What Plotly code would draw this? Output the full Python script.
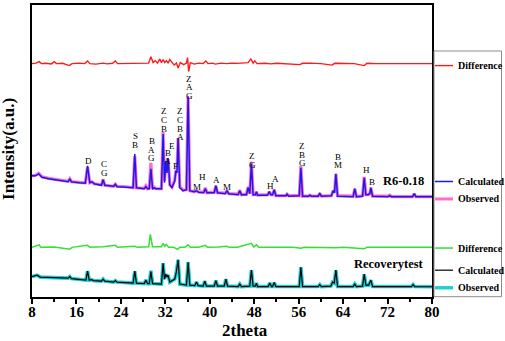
import plotly.graph_objects as go

# ---------------- data (2theta, intensity a.u.) ----------------
r6_theta = [8.0, 8.6, 9.2, 9.8, 11.0, 12.5, 14.5, 14.8, 15.1, 16.5, 17.6, 18.0, 18.4, 18.8, 19.2,
            20.5, 20.8, 21.1, 22.7, 23.0, 23.3, 25.0, 26.2, 26.5, 26.8, 28.2, 28.5, 28.8, 29.1,
            29.4, 29.7, 30.0, 30.3, 31.3, 31.6, 31.85, 32.1, 32.3, 32.5, 32.8, 33.2, 33.7, 33.9,
            34.1, 34.3, 34.6, 35.2, 35.8, 36.1, 36.4, 37.2, 37.6, 38.0, 38.9, 39.2, 39.5, 40.8,
            41.1, 41.4, 42.8, 43.1, 43.4, 45.1, 45.4, 45.7, 46.6, 46.9, 47.2, 47.5, 47.8, 48.2,
            48.4, 48.6, 50.4, 50.7, 51.0, 51.3, 51.6, 51.9, 53.7, 53.9, 54.2, 56.1, 56.4, 56.7,
            57.8, 58.0, 58.3, 59.5, 59.8, 60.1, 61.9, 62.2, 62.45, 62.7, 63.0, 65.8, 66.1, 66.4,
            67.5, 67.8, 68.1, 68.5, 68.8, 69.0, 69.3, 72.1, 72.4, 72.7, 76.5, 76.8, 77.1, 80.0]
r6_calc = [27, 27, 29, 25.5, 24, 22.5, 21, 24, 21, 20, 19.5, 37, 20, 21, 19,
           17.5, 23, 17.5, 16.5, 18.5, 16, 15.5, 15, 49, 15, 14, 16, 14, 14,
           34, 14, 15, 14, 14, 69, 20, 42, 30, 45, 18, 15, 22, 32,
           30, 65, 15, 12, 13, 107, 12, 11, 12, 10.5, 10, 14, 10, 10,
           17, 10, 9, 12, 9, 8, 12, 8, 8, 15, 9, 39, 8, 8,
           11, 7.5, 7.5, 11, 8, 8, 13, 7, 7, 8.5, 6.5, 7, 35, 6.5,
           6.5, 7.5, 6.5, 6.5, 9, 6.5, 7, 12, 10, 29, 6.5, 6, 14, 6,
           6.5, 25, 8, 8, 9, 15, 6.5, 6, 7, 6, 6, 9, 6, 6]
r6_obs = [27, 27.5, 29.5, 26, 24.5, 23, 21.5, 24, 21, 20.5, 20, 36, 20, 21, 19,
          18, 23.5, 17.5, 16.5, 18.5, 16.5, 16, 15, 47, 15, 14.5, 17, 14, 14.5,
          40, 14, 15.5, 14, 14, 71, 22, 41, 30, 44, 18, 15.5, 23, 33,
          31, 65, 16, 12.5, 13, 106, 12, 11, 12, 10.5, 10.5, 15, 10, 10.5,
          17, 10, 9.5, 12.5, 9, 8.5, 12.5, 8, 8.5, 16, 9, 41, 8, 8,
          11, 7.5, 8, 11, 8, 8, 13, 7, 7, 8.5, 7, 7, 37, 6.5,
          6.5, 7.5, 6.5, 6.5, 9.5, 6.5, 7, 12, 10, 29, 7, 6.5, 14, 6,
          7, 26, 8, 8, 9, 15, 6.5, 6.5, 7.5, 6, 6, 9, 6, 6]

rec_theta = [8.0, 8.9, 9.5, 12.0, 14.5, 14.8, 15.1, 17.7, 18.0, 18.3, 18.7, 19.1, 20.5, 20.8,
             21.1, 22.7, 23.0, 23.3, 26.2, 26.5, 26.8, 28.2, 28.5, 28.8, 29.1, 29.4, 29.7,
             31.3, 31.6, 31.85, 32.1, 32.3, 32.5, 32.8, 33.7, 34.0, 34.3, 34.6, 35.8, 36.1,
             36.4, 37.3, 37.6, 37.9, 38.8, 39.1, 39.4, 40.8, 41.1, 41.4, 42.6, 42.9, 43.2,
             45.1, 45.4, 45.7, 47.2, 47.5, 47.8, 48.2, 48.4, 48.6, 50.5, 50.8, 51.1, 51.3,
             51.6, 51.9, 56.1, 56.4, 56.7, 59.5, 59.8, 60.1, 61.8, 62.1, 62.4, 62.7, 63.0,
             65.8, 66.1, 66.4, 67.5, 67.8, 68.1, 68.6, 69.0, 69.3, 76.3, 76.6, 76.9, 80.0]
rec_calc = [12.5, 14, 12, 11.5, 11, 12.5, 10.5, 9, 18, 9, 9.5, 8.5, 8, 10,
            8, 7, 8.5, 7, 6, 18, 6, 5.5, 9, 5.5, 5.5, 17.5, 5.5,
            5, 26, 10, 15, 12, 14, 7, 10, 18, 29.5, 5, 4, 27,
            4, 3.5, 7, 3.5, 3, 8, 3, 3, 8.5, 3, 3, 10, 3,
            2.5, 5, 2.5, 3, 19, 3, 3, 6, 2.5, 2.5, 6, 2.5, 2.5,
            6.5, 2.5, 2.5, 22, 2.5, 2.5, 4.5, 2.5, 3, 7, 6, 19, 2.5,
            2.5, 5, 2.5, 3, 15, 4, 4, 9, 2.5, 2.5, 4.5, 2.5, 2.3]
rec_obs = [12.5, 14, 12, 11.5, 11, 12.5, 10.5, 9, 18, 9, 9.5, 8.5, 8, 10,
           8, 7, 8.5, 7, 6, 18, 6, 5.5, 9, 5.5, 5.5, 18.5, 5.5,
           5, 26, 10, 15, 12, 14, 7, 10, 18, 29.5, 5, 4, 27,
           4, 3.5, 7, 3.5, 3, 8, 3, 3, 8.5, 3, 3, 10, 3,
           2.5, 5, 2.5, 3, 19, 3, 3, 6, 2.5, 2.5, 6, 2.5, 2.5,
           6.5, 2.5, 2.5, 22, 2.5, 2.5, 4.5, 2.5, 3, 7, 6, 19, 2.5,
           2.5, 5, 2.5, 3, 15, 4, 4, 9, 2.5, 2.5, 4.5, 2.5, 2.3]

diff1_theta = [8.0, 8.7, 9.3, 9.7, 10.5, 11.5, 12.0, 12.4, 13.5, 14.7, 15.2, 16.5, 17.5, 18.0,
               18.4, 19.5, 20.8, 21.5, 22.5, 23.0, 23.4, 25.0, 26.5, 27.5, 28.5, 29.0, 29.4,
               29.8, 30.2, 30.6, 31.0, 31.3, 31.6, 31.9, 32.2, 32.5, 32.8, 33.2, 33.6, 34.0,
               34.3, 34.7, 35.3, 35.8, 36.0, 36.2, 36.5, 37.2, 38.0, 38.8, 39.3, 39.7, 40.5,
               41.0, 42.0, 43.0, 44.0, 45.0, 46.0, 46.9, 47.4, 47.8, 48.1, 48.5, 50.0, 51.0,
               52.0, 53.0, 54.0, 56.2, 56.7, 58.0, 60.0, 62.0, 62.5, 64.0, 66.0, 67.8, 68.3,
               70.0, 72.0, 76.0, 80.0]
diff1 = [0, 0.5, 2, 0, 0.3, -0.3, 2, 0, 0.3, -2, 0, 0.5, 0, 2.7,
         0, -0.5, 0.5, -0.3, 0.3, 2.7, 0, 0.3, 0.7, 0.2, 1, 0.5, 7,
         1, 3, 0.5, 4.7, 1, 4, 1, 3, 0.5, 4, 1, -1.5, 0.5,
         -4.5, 1, -1, 0.5, 6, -8, 1, -0.5, 0.5, 0, 2.7, 0, 0.5,
         -0.5, 0.5, 0, 0.5, 0.2, 0.5, 1, 4.7, 0.5, 2.7, 0, 0.3, -0.3,
         0.3, 0, 0.3, -1, 0.3, 0.5, 0, -1.5, 0.3, 0.2, 0, -2, 0.3,
         0, 0.2, 0, 0]

diff2_theta = [8.0, 9.3, 9.6, 12.0, 14.8, 15.2, 18.0, 18.4, 20.8, 23.0, 23.4, 26.5, 27.0, 28.5,
               29.0, 29.3, 29.7, 31.3, 31.6, 31.9, 32.2, 32.6, 33.5, 34.2, 34.6, 35.5, 36.1,
               36.5, 38.0, 39.2, 39.6, 41.5, 43.0, 43.5, 45.0, 47.5, 47.9, 48.4, 48.8, 52.0,
               55.0, 56.4, 57.0, 62.7, 64.0, 67.8, 68.3, 72.0, 80.0]
diff2 = [0, 2.5, 0, 0.3, -2, 0, 2, 0, 0.5, 2, 0, 1, 0, 0.5,
         0.5, 13, 0.5, 0.5, 4, 1, 3, 0, 0, -2, 0, 0, 2.5,
         0, 0, 2, 0, 0.3, 1, 0, 0, 4, 0.5, 2.5, 0, 0,
         0, -1, 0, -0.5, 0, -1.5, 0, 0, 0]

label_theta = [18.08, 20.96, 26.54, 29.55, 31.81, 32.39, 33.15, 33.74, 34.64, 36.26, 37.65,
               38.73, 41.25, 43.15, 47.65, 50.84, 51.74, 56.65, 63.13, 68.12, 69.15]
label_text = ["D", "CG", "SB", "BAG", "ZCB", "BA", "E", "F", "ZCBA", "ZAG", "M",
              "H", "A", "M", "ZG", "H", "A", "ZBG", "BM", "H", "B"]
label_top = [42, 38.7, 67, 62, 92, 50.3, 57, 37, 92, 125, 16,
             26, 23, 16, 47, 17, 23.7, 57, 46.3, 32.7, 21]

x_ticks = [8, 16, 24, 32, 40, 48, 56, 64, 72, 80]

# ---------------- layout constants ----------------
OFF_DIFF1 = 235
OFF_R6 = 95
OFF_DIFF2 = 50
OFF_REC = 8
SERIF = "Liberation Serif, Times New Roman, serif"

C_RED = "#ff1a1a"
C_BLUE = "#1a1aee"
C_PINK = "#ff6ccc"
C_GREEN = "#33e033"
C_BLACK = "#000000"
C_CYAN = "#1ccfd6"

fig = go.Figure()

def add(x, y, off, color, width):
    fig.add_trace(go.Scatter(x=x, y=[v + off for v in y], mode="lines",
                             line=dict(color=color, width=width), showlegend=False,
                             hoverinfo="skip"))

add(diff1_theta, diff1, OFF_DIFF1, C_RED, 1.4)
add(r6_theta, r6_obs, OFF_R6, C_PINK, 3.2)
add(r6_theta, r6_calc, OFF_R6, C_BLUE, 1.5)
add(diff2_theta, diff2, OFF_DIFF2, C_GREEN, 1.5)
add(rec_theta, rec_obs, OFF_REC, C_CYAN, 3.6)
add(rec_theta, rec_calc, OFF_REC, C_BLACK, 1.2)

annotations = []
shapes = []
STEP = 8.7
for th, txt, top in zip(label_theta, label_text, label_top):
    for i, ch in enumerate(txt):
        annotations.append(dict(x=th, y=top + OFF_R6 - i * STEP, xref="x", yref="y",
                                text=ch, showarrow=False, xanchor="center", yanchor="middle",
                                borderpad=0,
                                font=dict(family=SERIF, size=9, color="black")))

# sample names
annotations.append(dict(x=78.9, y=117, xref="x", yref="y", text="R6-0.18", showarrow=False,
                        xanchor="right", yanchor="middle",
                        font=dict(family=SERIF, size=12.5, color="black", weight="bold")))
annotations.append(dict(x=78.9, y=33.7, xref="x", yref="y", text="Recoverytest", showarrow=False,
                        xanchor="right", yanchor="middle",
                        font=dict(family=SERIF, size=12.5, color="black", weight="bold")))

# axis titles
annotations.append(dict(x=0.5325, y=-0.116, xref="paper", yref="paper", text="2theta",
                        showarrow=False, xanchor="center", yanchor="middle",
                        font=dict(family=SERIF, size=17, color="black", weight="bold")))
annotations.append(dict(x=-0.0575, y=0.507, xref="paper", yref="paper", text="Intensity(a.u.)",
                        showarrow=False, xanchor="center", yanchor="middle", textangle=-90,
                        font=dict(family=SERIF, size=17, color="black", weight="bold")))

# custom legend panel
PX0, PW, PY0, PH = 32, 400, 297, 294
def px(xp):
    return (xp - PX0) / PW
def py(yp):
    return (PY0 - yp) / PH

shapes.append(dict(type="rect", xref="paper", yref="paper", x0=px(434), x1=px(501.5),
                   y0=py(296.7), y1=py(49.3), line=dict(color="#8c8c8c", width=1)))
legend_items = [("Difference", C_RED, 1.4, 64), ("Calculated", C_BLUE, 1.5, 180.7),
                ("Observed", C_PINK, 3.0, 198.3), ("Difference", C_GREEN, 1.5, 247.7),
                ("Calculated", C_BLACK, 1.2, 270), ("Observed", C_CYAN, 3.4, 287.7)]
for name, col, w, yy in legend_items:
    shapes.append(dict(type="line", xref="paper", yref="paper", x0=px(435), x1=px(453),
                       y0=py(yy), y1=py(yy), line=dict(color=col, width=w)))
    annotations.append(dict(x=px(455.5), y=py(yy), xref="paper", yref="paper", text=name,
                            showarrow=False, xanchor="left", yanchor="middle",
                            font=dict(family=SERIF, size=10, color="black", weight="bold")))

fig.update_layout(
    width=505, height=341,
    margin=dict(l=32, r=73, t=3, b=44),
    paper_bgcolor="white", plot_bgcolor="white",
    showlegend=False,
    annotations=annotations, shapes=shapes,
    xaxis=dict(range=[8, 80], tickvals=x_ticks, ticktext=[str(t) for t in x_ticks],
               ticks="outside", ticklen=5, tickwidth=1.5, tickcolor="black",
               ticklabelstandoff=-5,
               minor=dict(dtick=4, tick0=8, ticks="outside", ticklen=3, tickwidth=1.5,
                          tickcolor="black", showgrid=False),
               showline=True, linecolor="black", linewidth=2, mirror=True,
               showgrid=False, zeroline=False,
               tickfont=dict(family=SERIF, size=15, color="black", weight="bold")),
    yaxis=dict(range=[0, 294], showticklabels=False, ticks="", showline=True,
               linecolor="black", linewidth=2, mirror=True, showgrid=False, zeroline=False),
)

fig.write_html("out.html", config={"displayModeBar": False},
               post_script="document.body.style.margin='0';document.body.style.overflow='hidden';")
